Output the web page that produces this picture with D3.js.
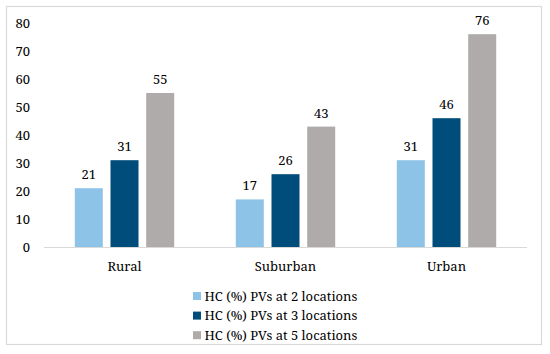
<!DOCTYPE html>
<html>
<head>
<meta charset="utf-8">
<script src="https://cdn.jsdelivr.net/npm/d3@7"></script>
<style>
  body { margin: 0; background: #fff; }
</style>
</head>
<body>
<div id="chart"></div>
<script>
"use strict";

var categories = ["Rural", "Suburban", "Urban"];
var seriesNames = [
  "HC (%) PVs at 2 locations",
  "HC (%) PVs at 3 locations",
  "HC (%) PVs at 5 locations"
];
var series2 = [21, 17, 31];
var series3 = [31, 26, 46];
var series5 = [55, 43, 76];
var yTicks = [0, 10, 20, 30, 40, 50, 60, 70, 80];
var colors = ["#8ec3e8", "#004c7b", "#afabab"];

var width = 550, height = 354;
var plot = { left: 44, right: 527, top: 23, bottom: 247 };
var font = "'Noto Serif'";

var svg = d3.select("#chart").append("svg")
  .attr("width", width)
  .attr("height", height);

// pick a font size so the legend text is as wide as in the original (~153px)
var probe = svg.append("text")
  .style("font-family", font)
  .style("font-size", "13px")
  .text(seriesNames[0]);
var fontSize = Math.min(13.5, 13 * 153 / probe.node().getComputedTextLength());
probe.remove();

// outer frame
svg.append("rect")
  .attr("x", 6.5).attr("y", 6.5)
  .attr("width", 535).attr("height", 338)
  .attr("fill", "#fff")
  .attr("stroke", "#d9d9d9")
  .attr("stroke-width", 1.2);

var x = d3.scaleBand()
  .domain(categories)
  .range([plot.left, plot.right]);

var y = d3.scaleLinear()
  .domain([0, 80])
  .range([plot.bottom, plot.top]);

var barW = 28, step = 35.7;

var values = [series2, series3, series5];

// y tick labels
svg.append("g").selectAll("text")
  .data(yTicks)
  .enter().append("text")
  .attr("x", 30)
  .attr("y", function(d) { return y(d); })
  .attr("dy", "0.35em")
  .attr("text-anchor", "end")
  .style("font-family", font)
  .style("font-size", fontSize + "px")
  .text(function(d) { return d; });

// bars + labels
values.forEach(function(vals, s) {
  var g = svg.append("g");
  var off = (s - 1) * step - barW / 2;
  g.selectAll("rect")
    .data(vals)
    .enter().append("rect")
    .attr("x", function(d, i) { return x(categories[i]) + x.bandwidth() / 2 + off; })
    .attr("y", function(d) { return y(d); })
    .attr("width", barW)
    .attr("height", function(d) { return y(0) - y(d); })
    .attr("fill", colors[s]);
  g.selectAll("text")
    .data(vals)
    .enter().append("text")
    .attr("x", function(d, i) { return x(categories[i]) + x.bandwidth() / 2 + off + barW / 2; })
    .attr("y", function(d) { return y(d) - 9; })
    .attr("text-anchor", "middle")
    .style("font-family", font)
    .style("font-size", fontSize + "px")
    .text(function(d) { return d; });
});

// baseline
svg.append("line")
  .attr("x1", plot.left).attr("x2", plot.right)
  .attr("y1", y(0) + 0.5).attr("y2", y(0) + 0.5)
  .attr("stroke", "#d9d9d9")
  .attr("stroke-width", 1);

// category labels
svg.append("g").selectAll("text")
  .data(categories)
  .enter().append("text")
  .attr("x", function(d) { return x(d) + x.bandwidth() / 2; })
  .attr("y", 271)
  .attr("text-anchor", "middle")
  .style("font-family", font)
  .style("font-size", fontSize + "px")
  .text(function(d) { return d; });

// legend
var legend = svg.append("g").selectAll("g")
  .data(seriesNames)
  .enter().append("g")
  .attr("transform", function(d, i) { return "translate(193," + (296 + i * 19.6) + ")"; });

legend.append("rect")
  .attr("x", 0).attr("y", -4)
  .attr("width", 8).attr("height", 8)
  .attr("fill", function(d, i) { return colors[i]; });

legend.append("text")
  .attr("x", 11.5)
  .attr("y", 0)
  .attr("dy", "0.35em")
  .style("font-family", font)
  .style("font-size", fontSize + "px")
  .text(function(d) { return d; });
</script>
</body>
</html>
